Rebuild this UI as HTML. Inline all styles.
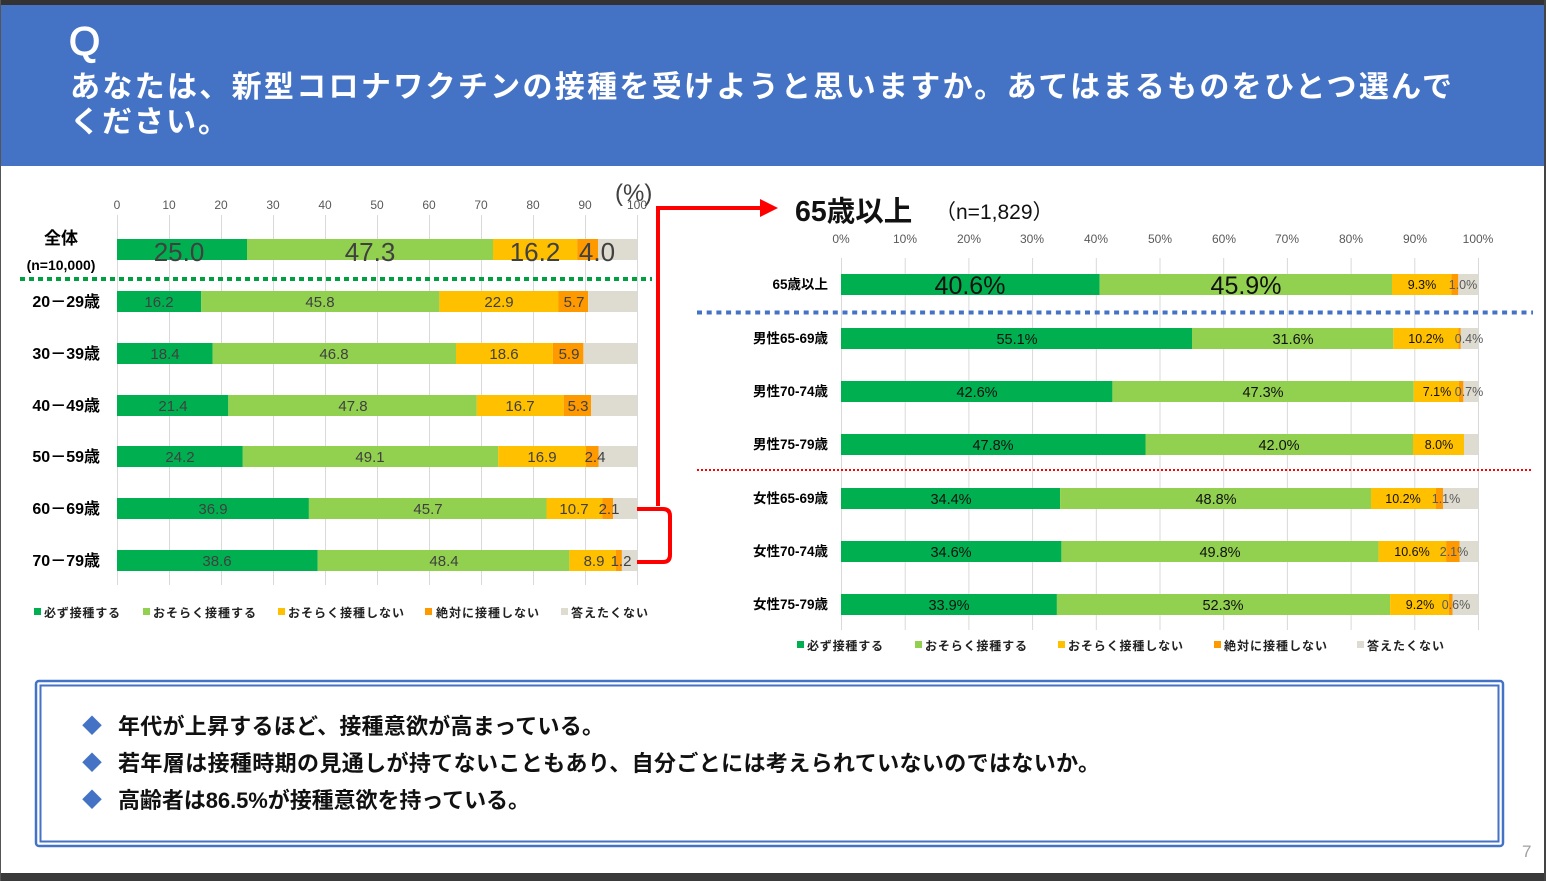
<!DOCTYPE html>
<html lang="ja">
<head>
<meta charset="utf-8">
<style>
html,body{margin:0;padding:0;background:#fff;}
body{width:1546px;height:881px;overflow:hidden;}
svg{display:block;}
text{font-family:"Liberation Sans","Noto Sans CJK JP",sans-serif;}
</style>
</head>
<body>
<svg width="1546" height="881" viewBox="0 0 1546 881" xmlns="http://www.w3.org/2000/svg">
  <!-- frame -->
  <rect x="0" y="0" width="1546" height="881" fill="#ffffff"/>
  <rect x="0" y="0" width="1546" height="5" fill="#333333"/>
  <rect x="0" y="873" width="1546" height="8" fill="#3a3a3a"/>
  <rect x="0" y="0" width="1" height="881" fill="#555555"/>
  <rect x="1544" y="0" width="2" height="881" fill="#444444"/>

  <!-- header -->
  <rect x="1" y="5" width="1543" height="161" fill="#4472C4"/>
  <text x="69" y="55" font-size="40" fill="#ffffff" stroke="#ffffff" stroke-width="1.2" font-family="'Liberation Sans',sans-serif">Q</text>
  <text x="70" y="97" font-size="30" font-weight="bold" fill="#ffffff" textLength="1382" lengthAdjust="spacing">あなたは、新型コロナワクチンの接種を受けようと思いますか。あてはまるものをひとつ選んで</text>
  <text x="70" y="132" font-size="30" font-weight="bold" fill="#ffffff" textLength="158" lengthAdjust="spacing">ください。</text>

  <!-- ========== LEFT CHART ========== -->
  <g stroke="#D9D9D9" stroke-width="1">
    <line x1="117.5" y1="215" x2="117.5" y2="585"/>
    <line x1="169.5" y1="215" x2="169.5" y2="585"/>
    <line x1="221.5" y1="215" x2="221.5" y2="585"/>
    <line x1="273.5" y1="215" x2="273.5" y2="585"/>
    <line x1="325.5" y1="215" x2="325.5" y2="585"/>
    <line x1="377.5" y1="215" x2="377.5" y2="585"/>
    <line x1="429.5" y1="215" x2="429.5" y2="585"/>
    <line x1="481.5" y1="215" x2="481.5" y2="585"/>
    <line x1="533.5" y1="215" x2="533.5" y2="585"/>
    <line x1="585.5" y1="215" x2="585.5" y2="585"/>
    <line x1="637.5" y1="215" x2="637.5" y2="585"/>
  </g>
  <g font-size="12" fill="#595959" text-anchor="middle">
    <text x="117" y="209">0</text>
    <text x="169" y="209">10</text>
    <text x="221" y="209">20</text>
    <text x="273" y="209">30</text>
    <text x="325" y="209">40</text>
    <text x="377" y="209">50</text>
    <text x="429" y="209">60</text>
    <text x="481" y="209">70</text>
    <text x="533" y="209">80</text>
    <text x="585" y="209">90</text>
    <text x="637" y="209">100</text>
  </g>
  <text x="615" y="201" font-size="24" fill="#404040">(%)</text>

  <!-- left bars -->
  <rect x="117" y="239" width="130" height="21" fill="#00B050"/>
  <rect x="247" y="239" width="246" height="21" fill="#92D050"/>
  <rect x="493" y="239" width="84.2" height="21" fill="#FFC000"/>
  <rect x="577.2" y="239" width="20.8" height="21" fill="#FF9900"/>
  <rect x="598" y="239" width="39" height="21" fill="#DEDCD0"/>

  <rect x="117" y="291" width="84.2" height="21" fill="#00B050"/>
  <rect x="201.2" y="291" width="238.2" height="21" fill="#92D050"/>
  <rect x="439.4" y="291" width="119.1" height="21" fill="#FFC000"/>
  <rect x="558.5" y="291" width="29.6" height="21" fill="#FF9900"/>
  <rect x="588.1" y="291" width="48.9" height="21" fill="#DEDCD0"/>

  <rect x="117" y="343" width="95.7" height="21" fill="#00B050"/>
  <rect x="212.7" y="343" width="243.3" height="21" fill="#92D050"/>
  <rect x="456" y="343" width="96.8" height="21" fill="#FFC000"/>
  <rect x="552.8" y="343" width="30.6" height="21" fill="#FF9900"/>
  <rect x="583.4" y="343" width="53.6" height="21" fill="#DEDCD0"/>

  <rect x="117" y="395" width="111.3" height="21" fill="#00B050"/>
  <rect x="228.3" y="395" width="248.5" height="21" fill="#92D050"/>
  <rect x="476.8" y="395" width="86.9" height="21" fill="#FFC000"/>
  <rect x="563.7" y="395" width="27.5" height="21" fill="#FF9900"/>
  <rect x="591.2" y="395" width="45.8" height="21" fill="#DEDCD0"/>

  <rect x="117" y="446" width="125.8" height="21" fill="#00B050"/>
  <rect x="242.8" y="446" width="255.4" height="21" fill="#92D050"/>
  <rect x="498.2" y="446" width="87.8" height="21" fill="#FFC000"/>
  <rect x="586" y="446" width="12.5" height="21" fill="#FF9900"/>
  <rect x="598.5" y="446" width="38.5" height="21" fill="#DEDCD0"/>

  <rect x="117" y="498" width="191.9" height="21" fill="#00B050"/>
  <rect x="308.9" y="498" width="237.6" height="21" fill="#92D050"/>
  <rect x="546.5" y="498" width="55.7" height="21" fill="#FFC000"/>
  <rect x="602.2" y="498" width="10.9" height="21" fill="#FF9900"/>
  <rect x="613.1" y="498" width="23.9" height="21" fill="#DEDCD0"/>

  <rect x="117" y="550" width="200.7" height="21" fill="#00B050"/>
  <rect x="317.7" y="550" width="251.7" height="21" fill="#92D050"/>
  <rect x="569.4" y="550" width="46.3" height="21" fill="#FFC000"/>
  <rect x="615.7" y="550" width="6.2" height="21" fill="#FF9900"/>
  <rect x="621.9" y="550" width="15.1" height="21" fill="#DEDCD0"/>

  <!-- left bar labels -->
  <g fill="#404040" text-anchor="middle">
    <g font-size="26">
      <text x="179" y="261">25.0</text>
      <text x="370" y="261">47.3</text>
      <text x="535" y="261">16.2</text>
      <text x="597" y="261">4.0</text>
    </g>
    <g font-size="15">
      <text x="159" y="307">16.2</text>
      <text x="320" y="307">45.8</text>
      <text x="499" y="307">22.9</text>
      <text x="574" y="307">5.7</text>

      <text x="165" y="359">18.4</text>
      <text x="334" y="359">46.8</text>
      <text x="504" y="359">18.6</text>
      <text x="569" y="359">5.9</text>

      <text x="173" y="411">21.4</text>
      <text x="353" y="411">47.8</text>
      <text x="520" y="411">16.7</text>
      <text x="578" y="411">5.3</text>

      <text x="180" y="462">24.2</text>
      <text x="370" y="462">49.1</text>
      <text x="542" y="462">16.9</text>
      <text x="595" y="462">2.4</text>

      <text x="213" y="514">36.9</text>
      <text x="428" y="514">45.7</text>
      <text x="574" y="514">10.7</text>
      <text x="609" y="514">2.1</text>

      <text x="217" y="566">38.6</text>
      <text x="444" y="566">48.4</text>
      <text x="594" y="566">8.9</text>
      <text x="621" y="566">1.2</text>
    </g>
  </g>

  <!-- left category labels -->
  <g font-weight="bold" fill="#000000">
    <text x="61" y="244" font-size="17" text-anchor="middle">全体</text>
    <text x="61" y="270" font-size="14" text-anchor="middle">(n=10,000)</text>
    <g font-size="16" text-anchor="end">
      <text x="100" y="307">20－29歳</text>
      <text x="100" y="359">30－39歳</text>
      <text x="100" y="411">40－49歳</text>
      <text x="100" y="462">50－59歳</text>
      <text x="100" y="514">60－69歳</text>
      <text x="100" y="566">70－79歳</text>
    </g>
  </g>

  <!-- green dotted line -->
  <line x1="20" y1="279" x2="652" y2="279" stroke="#00A040" stroke-width="4" stroke-dasharray="5 4"/>

  <!-- left legend -->
  <g font-size="12" font-weight="bold" fill="#222222">
    <rect x="34" y="608" width="7" height="7" fill="#00B050"/>
    <text x="44" y="617" textLength="76" lengthAdjust="spacing">必ず接種する</text>
    <rect x="143" y="608" width="7" height="7" fill="#92D050"/>
    <text x="153" y="617" textLength="103" lengthAdjust="spacing">おそらく接種する</text>
    <rect x="278" y="608" width="7" height="7" fill="#FFC000"/>
    <text x="288" y="617" textLength="116" lengthAdjust="spacing">おそらく接種しない</text>
    <rect x="425" y="608" width="7" height="7" fill="#FF9900"/>
    <text x="436" y="617" textLength="103" lengthAdjust="spacing">絶対に接種しない</text>
    <rect x="561" y="608" width="7" height="7" fill="#DEDCD0"/>
    <text x="571" y="617" textLength="77" lengthAdjust="spacing">答えたくない</text>
  </g>

  <!-- red connector -->
  <g stroke="#FF0000" stroke-width="4" fill="none">
    <path d="M658,506 L658,208 L764,208"/>
    <path d="M637,509 L663,509 Q670,509 670,516 L670,555 Q670,562 663,562 L637,562"/>
  </g>
  <polygon points="760,199 778,208 760,217" fill="#FF0000"/>

  <!-- ========== RIGHT CHART ========== -->
  <text x="795" y="221" font-size="28.5" font-weight="bold" fill="#111111">65歳以上</text>
  <text x="935" y="219" font-size="21" fill="#111111">（n=1,829）</text>

  <g stroke="#D9D9D9" stroke-width="1">
    <line x1="841.5" y1="258" x2="841.5" y2="630"/>
    <line x1="905.2" y1="258" x2="905.2" y2="630"/>
    <line x1="968.9" y1="258" x2="968.9" y2="630"/>
    <line x1="1032.6" y1="258" x2="1032.6" y2="630"/>
    <line x1="1096.3" y1="258" x2="1096.3" y2="630"/>
    <line x1="1160" y1="258" x2="1160" y2="630"/>
    <line x1="1223.7" y1="258" x2="1223.7" y2="630"/>
    <line x1="1287.4" y1="258" x2="1287.4" y2="630"/>
    <line x1="1351.1" y1="258" x2="1351.1" y2="630"/>
    <line x1="1414.8" y1="258" x2="1414.8" y2="630"/>
    <line x1="1478.5" y1="258" x2="1478.5" y2="630"/>
  </g>
  <g font-size="12" fill="#595959" text-anchor="middle">
    <text x="841" y="243">0%</text>
    <text x="905" y="243">10%</text>
    <text x="969" y="243">20%</text>
    <text x="1032" y="243">30%</text>
    <text x="1096" y="243">40%</text>
    <text x="1160" y="243">50%</text>
    <text x="1224" y="243">60%</text>
    <text x="1287" y="243">70%</text>
    <text x="1351" y="243">80%</text>
    <text x="1415" y="243">90%</text>
    <text x="1478" y="243">100%</text>
  </g>

  <!-- right bars -->
  <rect x="841" y="274" width="258.6" height="21" fill="#00B050"/>
  <rect x="1099.6" y="274" width="292.4" height="21" fill="#92D050"/>
  <rect x="1392" y="274" width="59.3" height="21" fill="#FFC000"/>
  <rect x="1451.3" y="274" width="7" height="21" fill="#FF9900"/>
  <rect x="1458.3" y="274" width="19.7" height="21" fill="#DEDCD0"/>

  <rect x="841" y="328" width="351" height="21" fill="#00B050"/>
  <rect x="1192" y="328" width="201.3" height="21" fill="#92D050"/>
  <rect x="1393.3" y="328" width="65" height="21" fill="#FFC000"/>
  <rect x="1458.3" y="328" width="2.5" height="21" fill="#FF9900"/>
  <rect x="1460.8" y="328" width="17.2" height="21" fill="#DEDCD0"/>

  <rect x="841" y="381" width="271.4" height="21" fill="#00B050"/>
  <rect x="1112.4" y="381" width="301.3" height="21" fill="#92D050"/>
  <rect x="1413.7" y="381" width="45.2" height="21" fill="#FFC000"/>
  <rect x="1458.9" y="381" width="4.5" height="21" fill="#FF9900"/>
  <rect x="1463.4" y="381" width="14.6" height="21" fill="#DEDCD0"/>

  <rect x="841" y="434" width="304.5" height="21" fill="#00B050"/>
  <rect x="1145.5" y="434" width="267.5" height="21" fill="#92D050"/>
  <rect x="1413" y="434" width="51" height="21" fill="#FFC000"/>
  <rect x="1464" y="434" width="14" height="21" fill="#DEDCD0"/>

  <rect x="841" y="488" width="219.1" height="21" fill="#00B050"/>
  <rect x="1060.1" y="488" width="310.9" height="21" fill="#92D050"/>
  <rect x="1371" y="488" width="65" height="21" fill="#FFC000"/>
  <rect x="1436" y="488" width="7" height="21" fill="#FF9900"/>
  <rect x="1443" y="488" width="35" height="21" fill="#DEDCD0"/>

  <rect x="841" y="541" width="220.4" height="21" fill="#00B050"/>
  <rect x="1061.4" y="541" width="317.2" height="21" fill="#92D050"/>
  <rect x="1378.6" y="541" width="67.5" height="21" fill="#FFC000"/>
  <rect x="1446.1" y="541" width="13.4" height="21" fill="#FF9900"/>
  <rect x="1459.5" y="541" width="18.5" height="21" fill="#DEDCD0"/>

  <rect x="841" y="594" width="215.9" height="21" fill="#00B050"/>
  <rect x="1056.9" y="594" width="333.2" height="21" fill="#92D050"/>
  <rect x="1390.1" y="594" width="58.6" height="21" fill="#FFC000"/>
  <rect x="1448.7" y="594" width="3.8" height="21" fill="#FF9900"/>
  <rect x="1452.5" y="594" width="25.5" height="21" fill="#DEDCD0"/>

  <!-- right bar labels -->
  <g text-anchor="middle" fill="#111111">
    <g font-size="25">
      <text x="970" y="294">40.6%</text>
      <text x="1246" y="294">45.9%</text>
    </g>
    <g font-size="14.5">
      <text x="1017" y="344">55.1%</text>
      <text x="1293" y="344">31.6%</text>
      <text x="977" y="397">42.6%</text>
      <text x="1263" y="397">47.3%</text>
      <text x="993" y="450">47.8%</text>
      <text x="1279" y="450">42.0%</text>
      <text x="951" y="504">34.4%</text>
      <text x="1216" y="504">48.8%</text>
      <text x="951" y="557">34.6%</text>
      <text x="1220" y="557">49.8%</text>
      <text x="949" y="610">33.9%</text>
      <text x="1223" y="610">52.3%</text>
    </g>
    <g font-size="12.5">
      <text x="1422" y="289">9.3%</text>
      <text x="1426" y="343">10.2%</text>
      <text x="1437" y="396">7.1%</text>
      <text x="1439" y="449">8.0%</text>
      <text x="1403" y="503">10.2%</text>
      <text x="1412" y="556">10.6%</text>
      <text x="1420" y="609">9.2%</text>
    </g>
    <g font-size="12.5" fill="#595959">
      <text x="1463" y="289">1.0%</text>
      <text x="1469" y="343">0.4%</text>
      <text x="1469" y="396">0.7%</text>
      <text x="1446" y="503">1.1%</text>
      <text x="1454" y="556">2.1%</text>
      <text x="1456" y="609">0.6%</text>
    </g>
  </g>

  <!-- right category labels -->
  <g font-size="13.5" font-weight="bold" fill="#000000" text-anchor="end">
    <text x="828" y="289">65歳以上</text>
    <text x="828" y="343">男性65-69歳</text>
    <text x="828" y="396">男性70-74歳</text>
    <text x="828" y="449">男性75-79歳</text>
    <text x="828" y="503">女性65-69歳</text>
    <text x="828" y="556">女性70-74歳</text>
    <text x="828" y="609">女性75-79歳</text>
  </g>

  <!-- dotted lines right -->
  <line x1="697" y1="312.5" x2="1533" y2="312.5" stroke="#4472C4" stroke-width="4" stroke-dasharray="5 4.7"/>
  <line x1="697" y1="470" x2="1533" y2="470" stroke="#FF0000" stroke-width="2" stroke-dasharray="2 2"/>

  <!-- right legend -->
  <g font-size="12" font-weight="bold" fill="#222222">
    <rect x="797" y="641" width="7" height="7" fill="#00B050"/>
    <text x="807" y="650" textLength="76" lengthAdjust="spacing">必ず接種する</text>
    <rect x="915" y="641" width="7" height="7" fill="#92D050"/>
    <text x="925" y="650" textLength="102" lengthAdjust="spacing">おそらく接種する</text>
    <rect x="1058" y="641" width="7" height="7" fill="#FFC000"/>
    <text x="1068" y="650" textLength="115" lengthAdjust="spacing">おそらく接種しない</text>
    <rect x="1214" y="641" width="7" height="7" fill="#FF9900"/>
    <text x="1224" y="650" textLength="103" lengthAdjust="spacing">絶対に接種しない</text>
    <rect x="1357" y="641" width="7" height="7" fill="#DEDCD0"/>
    <text x="1367" y="650" textLength="77" lengthAdjust="spacing">答えたくない</text>
  </g>

  <!-- ========== SUMMARY BOX ========== -->
  <rect x="36" y="681" width="1467" height="165" rx="3" ry="3" fill="none" stroke="#4472C4" stroke-width="2.5"/>
  <rect x="40.5" y="685.5" width="1458" height="156" fill="none" stroke="#4472C4" stroke-width="2"/>
  <g font-size="20" fill="#4472C4" text-anchor="middle">
    <text x="92" y="733">◆</text>
    <text x="92" y="770">◆</text>
    <text x="92" y="807">◆</text>
  </g>
  <g font-size="22" font-weight="bold" fill="#111111">
    <text x="118" y="734" textLength="486" lengthAdjust="spacing">年代が上昇するほど、接種意欲が高まっている。</text>
    <text x="118" y="771" textLength="982" lengthAdjust="spacing">若年層は接種時期の見通しが持てないこともあり、自分ごとには考えられていないのではないか。</text>
    <text x="118" y="808" textLength="412" lengthAdjust="spacing">高齢者は86.5%が接種意欲を持っている。</text>
  </g>

  <!-- page number -->
  <text x="1522" y="857" font-size="17" fill="#A0A0A0">7</text>
</svg>
</body>
</html>
